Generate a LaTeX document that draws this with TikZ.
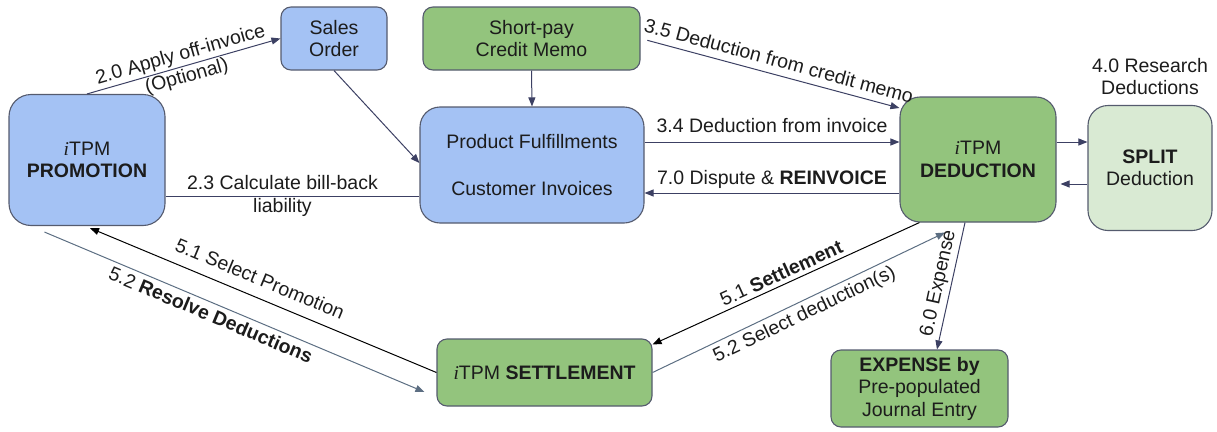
\documentclass[tikz,border=0pt]{standalone}
\usepackage{fontspec}
\setmainfont{Liberation Sans}
\newfontfamily\serifi{Liberation Serif}
\usetikzlibrary{arrows.meta,calc}
\definecolor{bluef}{HTML}{A4C2F4}
\definecolor{greenf}{HTML}{93C47D}
\definecolor{lgreen}{HTML}{D9EAD3}
\definecolor{bord}{HTML}{555B6E}
\definecolor{navy}{HTML}{3C4063}
\definecolor{grayblue}{HTML}{5C6E82}
\definecolor{txt}{HTML}{1C1C1C}
\newcommand{\itp}{{\serifi\itshape i}TPM}
\begin{document}
\begin{tikzpicture}[x=1pt,y=-1pt,
  every node/.style={font=\fontsize{19.5}{22.5}\selectfont, text=txt},
  box/.style={draw=bord, line width=1.1pt, rounded corners=#1, align=center, inner sep=0pt},
  box/.default=10pt,
  conn/.style={draw=navy, line width=1pt, -{Triangle[length=9pt,width=7pt]}},
  lbl/.style={inner sep=2pt, align=center}]
\useasboundingbox (0,0) rectangle (1217,431);

% nodes
\node[box=22pt, fill=bluef, minimum width=156pt, minimum height=131pt] (prom) at (87,160) {\itp\\\textbf{PROMOTION}};
\node[box, fill=bluef, minimum width=106pt, minimum height=63pt] (sales) at (334,38.5) {Sales\\Order};
\node[box, fill=greenf, minimum width=217pt, minimum height=63pt] (memo) at (531.5,38.5) {Short-pay\\Credit Memo};
\node[box=20pt, fill=bluef, minimum width=224pt, minimum height=116pt] (prod) at (532,165) {Product Fulfillments\\[24pt]Customer Invoices};
\node[box=20pt, fill=greenf, minimum width=156pt, minimum height=125pt] (ded) at (978,159.5) {\itp\\\textbf{DEDUCTION}};
\node[box=20pt, fill=lgreen, minimum width=124pt, minimum height=125pt] (split) at (1150,168) {\textbf{SPLIT}\\Deduction};
\node[box, fill=greenf, minimum width=215pt, minimum height=67pt] (settle) at (544.5,372.5) {\itp{} \textbf{SETTLEMENT}};
\node[box, fill=greenf, minimum width=177pt, minimum height=77pt] (exp) at (919.5,388.5) {\textbf{EXPENSE by}\\Pre-populated\\Journal Entry};
\node[lbl, anchor=south] (research) at ([yshift=8pt]split.north) {4.0 Research\\Deductions};

% connectors
\draw[conn] (prom.north) -- (sales.west)
  node[lbl, midway, sloped] {2.0 Apply off-invoice\\(Optional)};
\draw[conn] (sales.south) -- ([yshift=2pt]prod.west);
\draw[conn] (memo.south) -- (prod.north);
\draw[draw=navy, line width=1pt] ([yshift=-36pt]prom.east) -- ([yshift=-36pt]prom.east -| prod.west)
  node[lbl, midway, xshift=-10pt] {2.3 Calculate bill-back\\liability};
\draw[conn, shorten <=7pt] (memo.east) -- ([yshift=51.5pt]ded.west)
  node[lbl, pos=0.52, sloped, above=5pt] {3.5 Deduction from credit memo};
\draw[conn] ([yshift=23pt]prod.east) -- ([yshift=23pt]prod.east -| ded.west)
  node[lbl, midway, above=7pt] {3.4 Deduction from invoice};
\draw[conn] ([yshift=-33.5pt]ded.west) -- ([yshift=-33.5pt]ded.west -| prod.east)
  node[lbl, midway, above=2pt] {7.0 Dispute \& \textbf{REINVOICE}};
\draw[conn] ([yshift=17.5pt]ded.east) -- ([yshift=17.5pt]ded.east -| split.west);
\draw[conn, shorten >=4pt] ([yshift=-16pt]split.west) -- ([yshift=-16pt]split.west -| ded.east);
\draw[conn, draw=black] ([xshift=20pt]ded.south west) -- ([yshift=-6pt]settle.north east)
  node[lbl, midway, sloped, above=2pt] {5.1 \textbf{Settlement}};
\draw[conn, draw=grayblue] (settle.east) -- ([xshift=-33pt,yshift=-10pt]ded.south)
  node[lbl, midway, sloped, below=2pt] {5.2 Select deduction(s)};
\draw[conn] ([xshift=-13pt]ded.south) -- ([xshift=17.5pt]exp.north)
  node[lbl, midway, sloped, above=1pt] {6.0 Expense};
\draw[conn, draw=black] (settle.west) -- ([xshift=3pt,yshift=-2pt]prom.south)
  node[lbl, pos=0.53, sloped, above=9pt] {5.1 Select Promotion};
\draw[conn, draw=grayblue] ([xshift=36pt,yshift=-6pt]prom.south west) -- ([xshift=-12pt,yshift=-19.5pt]settle.west)
  node[lbl, pos=0.45, sloped, below=2pt] {5.2 \textbf{Resolve Deductions}};
\end{tikzpicture}
\end{document}
